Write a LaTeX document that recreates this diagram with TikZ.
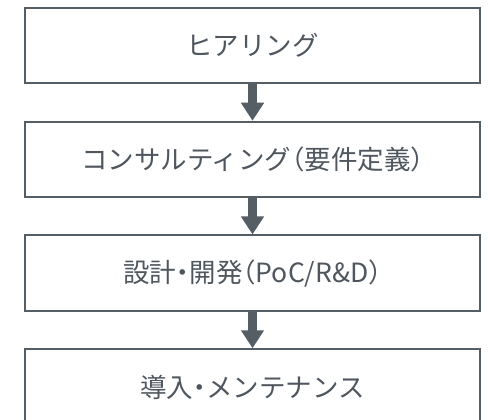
\documentclass[tikz,border=0pt]{standalone}
\usepackage{fontspec}
\newfontfamily\jpfont[RawFeature=+halt]{Noto Sans CJK JP}
\usetikzlibrary{arrows.meta}
\definecolor{ink}{HTML}{555D65}
\definecolor{txt}{HTML}{4F565E}
\tikzset{
  stepbox/.style={draw=ink, line width=2pt, minimum width=455pt, minimum height=75.5pt, inner sep=0pt, font=\jpfont\fontsize{26.5pt}{31pt}\selectfont, text=txt},
  flowarrow/.style={draw=ink, line width=9pt, -{Triangle[width=22pt,length=18pt]}, shorten <=-1pt}
}
\begin{document}
\begin{tikzpicture}[x=1pt,y=-1pt]
\useasboundingbox (0,0) rectangle (488,420);
\clip (0,0) rectangle (488,420);
\node[stepbox] (b1) at (252.5,45.75) {ヒアリング};
\node[stepbox] (b2) at (252.5,159.5) {コンサルティング（要件定義）};
\node[stepbox] (b3) at (252.5,273.2) {設計・開発（PoC/R\&D）};
\node[stepbox] (b4) at (252.5,387) {導入・メンテナンス};
\draw[flowarrow] (b1.south) -- (b2.north);
\draw[flowarrow] (b2.south) -- (b3.north);
\draw[flowarrow] (b3.south) -- (b4.north);
\end{tikzpicture}
\end{document}
